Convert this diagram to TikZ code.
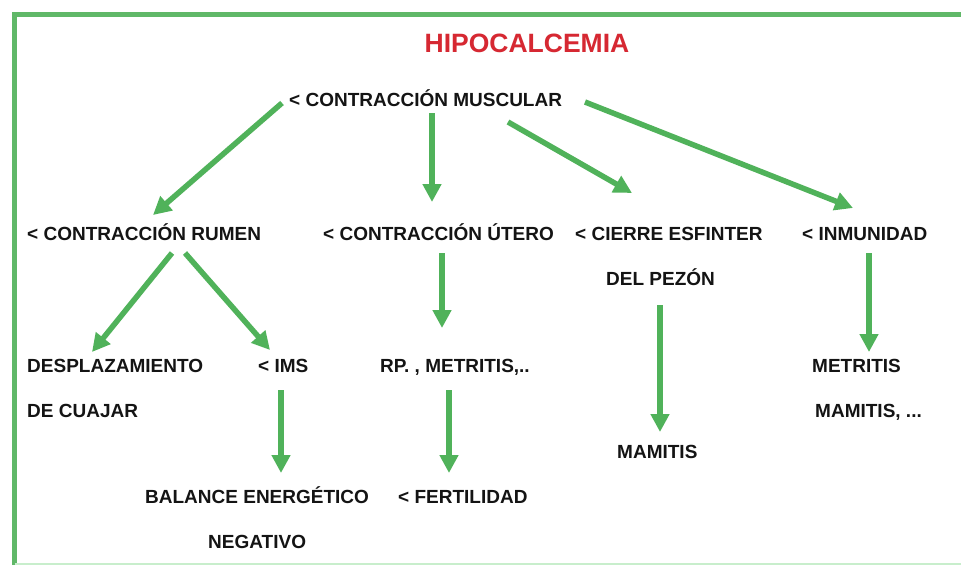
\documentclass[tikz,border=0pt]{standalone}
\usepackage{fontspec}
\setmainfont{Liberation Sans}
\usetikzlibrary{arrows.meta,calc}
\definecolor{arrgreen}{RGB}{80,178,90}
\definecolor{framegreen}{RGB}{96,184,104}
\definecolor{paleframe}{RGB}{200,238,204}
\definecolor{titlered}{RGB}{214,40,50}
\definecolor{txt}{RGB}{20,20,20}
\tikzset{
  lbl/.style={anchor=base west, inner sep=0pt, text=txt, font=\fontsize{19}{19}\selectfont\bfseries},
  arr/.style={draw=arrgreen, line width=5.5pt, -{Triangle[width=18pt,length=18pt]}}
}
\begin{document}
\begin{tikzpicture}[x=1pt,y=-1pt]
\useasboundingbox (0,0) rectangle (961,565);
\fill[white] (0,0) rectangle (961,565);
% frame
\draw[framegreen, line width=4.5pt] (14.5,565) -- (14.5,14.5) -- (961,14.5);
\draw[paleframe, line width=2pt] (14.5,563.5) -- (961,563.5);
% texts
\node[anchor=base, inner sep=0pt, text=titlered, font=\fontsize{26.5}{26.5}\selectfont\bfseries] (title) at (527,52) {HIPOCALCEMIA};
\node[lbl] (mus) at (289,106) {< CONTRACCIÓN MUSCULAR};
\node[lbl] (rum) at (27,240) {< CONTRACCIÓN RUMEN};
\node[lbl] (ute) at (323,240) {< CONTRACCIÓN ÚTERO};
\node[lbl] (cie1) at (575,240) {< CIERRE ESFINTER};
\node[lbl] (cie2) at (606,285) {DEL PEZÓN};
\node[lbl] (inm) at (802,240) {< INMUNIDAD};
\node[lbl] (des1) at (27,372) {DESPLAZAMIENTO};
\node[lbl] (des2) at (27,417) {DE CUAJAR};
\node[lbl] (ims) at (258,372) {< IMS};
\node[lbl] (rp) at (380,372) {RP. , METRITIS,..};
\node[lbl] (met1) at (812,372) {METRITIS};
\node[lbl] (met2) at (815,417) {MAMITIS, ...};
\node[lbl] (mam) at (617,458) {MAMITIS};
\node[lbl] (bal1) at (145,503) {BALANCE ENERGÉTICO};
\node[lbl] (bal2) at (208,548) {NEGATIVO};
\node[lbl] (fer) at (398,503) {< FERTILIDAD};
% arrows
\draw[arr] ($(mus.base west)+(-7,-3)$) -- ($(rum.base west)+(126,-25)$);
\draw[arr] ($(mus.base west)+(143,7)$) -- ($(ute.base west)+(109,-38)$);
\draw[arr] ($(mus.base west)+(219,16)$) -- ($(cie1.base west)+(57,-47)$);
\draw[arr] ($(mus.base west)+(296,-4)$) -- ($(inm.base west)+(51,-32)$);
\draw[arr] ($(rum.base west)+(145,13)$) -- ($(des1.base west)+(65,-20)$);
\draw[arr] ($(rum.base west)+(158,13)$) -- ($(ims.base west)+(12,-22)$);
\draw[arr] ($(ute.base west)+(119,13)$) -- ($(rp.base west)+(62,-44)$);
\draw[arr] ($(cie2.base west)+(54,20)$) -- ($(mam.base west)+(43,-26)$);
\draw[arr] ($(inm.base west)+(67,13)$) -- ($(met1.base west)+(57,-20)$);
\draw[arr] ($(ims.base west)+(23,18)$) -- ($(bal1.base west)+(136,-30)$);
\draw[arr] ($(rp.base west)+(69,18)$) -- ($(fer.base west)+(51,-30)$);
\end{tikzpicture}
\end{document}
